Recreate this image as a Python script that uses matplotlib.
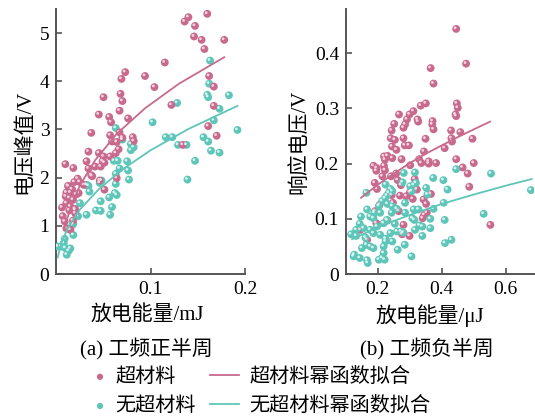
"""Discharge energy vs. response voltage, with and without metamaterial."""

import matplotlib
matplotlib.use("Agg")
import matplotlib.pyplot as plt
from matplotlib.transforms import offset_copy

# ─────────────────────────────────────────────────────────────────────────────
# DATA
# ─────────────────────────────────────────────────────────────────────────────

# (a) positive half cycle, energy in mJ, peak voltage in V
a_meta_x = [0.136, 0.140, 0.160, 0.147, 0.146, 0.154, 0.157, 0.178, 0.115, 0.094,
            0.104, 0.073, 0.069, 0.068, 0.070, 0.050, 0.067, 0.045, 0.056, 0.058,
            0.076, 0.037, 0.067, 0.057, 0.059, 0.064, 0.070, 0.081, 0.082, 0.122,
            0.162, 0.167, 0.167, 0.161, 0.170, 0.134, 0.034, 0.045, 0.050, 0.057,
            0.063, 0.066, 0.032, 0.041, 0.049, 0.047, 0.051, 0.0095, 0.018, 0.034,
            0.064, 0.046, 0.051, 0.038, 0.0225, 0.0247, 0.019, 0.013, 0.0166, 0.0106,
            0.0148, 0.021, 0.0236, 0.0099, 0.0138, 0.0176, 0.0106, 0.0148, 0.0198, 0.0138,
            0.006, 0.0067, 0.0088, 0.0106, 0.0148, 0.0176, 0.029, 0.020, 0.0123, 0.037]
a_meta_y = [5.24, 5.33, 5.40, 5.15, 4.93, 4.86, 4.67, 4.86, 4.39, 4.11,
            3.88, 4.19, 4.05, 3.74, 3.59, 3.67, 3.39, 3.31, 3.26, 3.15,
            3.23, 2.93, 2.94, 2.88, 2.75, 2.74, 2.83, 2.84, 2.76, 3.51,
            4.11, 3.89, 3.49, 3.07, 2.87, 2.68, 2.54, 2.51, 2.44, 2.44,
            2.51, 2.59, 2.34, 2.23, 2.34, 2.23, 2.31, 2.28, 2.20, 2.19,
            1.99, 1.94, 1.75, 2.03, 1.98, 1.91, 1.91, 1.82, 1.76, 1.69,
            1.69, 1.65, 1.68, 1.61, 1.58, 1.54, 1.47, 1.40, 1.35, 1.32,
            1.38, 1.20, 1.09, 0.95, 0.92, 1.11, 1.85, 1.26, 1.83, 2.05]

a_none_x = [0.163, 0.162, 0.160, 0.161, 0.183, 0.128, 0.173, 0.167, 0.102, 0.192,
            0.156, 0.161, 0.116, 0.123, 0.129, 0.138, 0.164, 0.173, 0.147, 0.139,
            0.063, 0.070, 0.079, 0.079, 0.082, 0.075, 0.076, 0.077, 0.067, 0.061,
            0.065, 0.063, 0.063, 0.062, 0.064, 0.056, 0.059, 0.057, 0.047, 0.046,
            0.048, 0.034, 0.035, 0.025, 0.023, 0.032, 0.042, 0.047, 0.020, 0.018,
            0.014, 0.018, 0.0088, 0.0078, 0.0053, 0.0014, 0.0095, 0.013, 0.011, 0.0148,
            0.032, 0.017]
a_none_y = [4.43, 3.95, 3.72, 3.67, 3.71, 3.55, 3.43, 3.19, 3.15, 2.99,
            2.84, 2.75, 2.84, 2.84, 2.68, 2.68, 2.56, 2.52, 2.35, 1.96,
            3.03, 2.79, 2.70, 2.57, 2.63, 2.34, 2.15, 1.96, 2.19, 2.35,
            2.35, 2.08, 1.87, 1.68, 1.64, 1.59, 1.39, 1.23, 1.51, 1.89,
            1.94, 1.83, 1.71, 1.47, 1.20, 1.23, 1.32, 1.31, 1.33, 1.04,
            0.92, 0.81, 0.73, 0.64, 0.57, 0.57, 0.54, 0.48, 0.40, 0.53,
            1.85, 1.02]

# power-law fit curves of (a), sampled along the drawn lines
a_meta_fit_x = [0.008, 0.015, 0.025, 0.041, 0.064, 0.094, 0.13, 0.178]
a_meta_fit_y = [0.91, 1.38, 1.84, 2.36, 2.91, 3.44, 3.95, 4.50]
a_none_fit_x = [0.0014, 0.005, 0.012, 0.025, 0.045, 0.07, 0.10, 0.14, 0.192]
a_none_fit_y = [0.345, 0.63, 0.95, 1.34, 1.76, 2.17, 2.57, 3.01, 3.49]

# (b) negative half cycle, energy in uJ, response voltage in V
b_meta_x = [0.445, 0.476, 0.365, 0.374, 0.447, 0.450, 0.443, 0.445, 0.350, 0.334,
            0.311, 0.299, 0.266, 0.291, 0.285, 0.280, 0.251, 0.243, 0.324, 0.326,
            0.371, 0.370, 0.374, 0.429, 0.458, 0.430, 0.432, 0.496, 0.240, 0.253,
            0.280, 0.297, 0.284, 0.244, 0.258, 0.349, 0.409, 0.230, 0.219, 0.219,
            0.186, 0.196, 0.195, 0.222, 0.245, 0.274, 0.301, 0.329, 0.344, 0.359,
            0.359, 0.382, 0.336, 0.445, 0.465, 0.500, 0.481, 0.486, 0.190, 0.197,
            0.214, 0.241, 0.257, 0.272, 0.269, 0.309, 0.289, 0.247, 0.243, 0.322,
            0.343, 0.351, 0.366, 0.353, 0.340, 0.345, 0.265, 0.230, 0.191, 0.195,
            0.145, 0.166, 0.276, 0.299, 0.552, 0.280, 0.205, 0.262, 0.315, 0.300,
            0.222]
b_meta_y = [0.444, 0.381, 0.373, 0.345, 0.309, 0.301, 0.289, 0.286, 0.309, 0.305,
            0.295, 0.289, 0.289, 0.280, 0.271, 0.265, 0.272, 0.260, 0.280, 0.276,
            0.277, 0.271, 0.262, 0.260, 0.257, 0.246, 0.240, 0.245, 0.246, 0.243,
            0.246, 0.233, 0.233, 0.231, 0.225, 0.245, 0.228, 0.214, 0.213, 0.196,
            0.196, 0.192, 0.187, 0.207, 0.210, 0.208, 0.197, 0.208, 0.222, 0.204,
            0.200, 0.201, 0.201, 0.208, 0.193, 0.201, 0.182, 0.158, 0.165, 0.154,
            0.177, 0.177, 0.182, 0.161, 0.142, 0.136, 0.141, 0.129, 0.143, 0.153,
            0.135, 0.127, 0.145, 0.111, 0.101, 0.107, 0.114, 0.097, 0.114, 0.092,
            0.080, 0.062, 0.072, 0.069, 0.089, 0.089, 0.125, 0.170, 0.172, 0.148,
            0.188]

b_none_x = [0.679, 0.554, 0.531, 0.445, 0.405, 0.418, 0.406, 0.373, 0.351, 0.355,
            0.374, 0.364, 0.364, 0.409, 0.410, 0.430, 0.316, 0.281, 0.277, 0.312,
            0.301, 0.306, 0.319, 0.312, 0.327, 0.285, 0.285, 0.314, 0.330, 0.339,
            0.339, 0.316, 0.308, 0.280, 0.272, 0.284, 0.305, 0.224, 0.239, 0.245,
            0.234, 0.228, 0.222, 0.213, 0.203, 0.230, 0.245, 0.259, 0.243, 0.207,
            0.189, 0.176, 0.166, 0.164, 0.186, 0.197, 0.218, 0.228, 0.253, 0.260,
            0.239, 0.224, 0.224, 0.218, 0.218, 0.213, 0.203, 0.221, 0.186, 0.168,
            0.166, 0.143, 0.126, 0.124, 0.132, 0.143, 0.147, 0.155, 0.116, 0.132,
            0.161, 0.176, 0.186, 0.164, 0.207, 0.176, 0.150, 0.245, 0.262]
b_none_y = [0.152, 0.182, 0.109, 0.190, 0.170, 0.153, 0.129, 0.174, 0.156, 0.144,
            0.118, 0.100, 0.083, 0.098, 0.056, 0.062, 0.184, 0.183, 0.166, 0.161,
            0.159, 0.150, 0.165, 0.117, 0.117, 0.129, 0.111, 0.098, 0.088, 0.086,
            0.069, 0.080, 0.101, 0.075, 0.077, 0.053, 0.032, 0.162, 0.154, 0.150,
            0.147, 0.142, 0.137, 0.132, 0.123, 0.127, 0.123, 0.118, 0.111, 0.111,
            0.111, 0.104, 0.117, 0.147, 0.101, 0.086, 0.092, 0.098, 0.091, 0.077,
            0.074, 0.064, 0.059, 0.050, 0.038, 0.029, 0.026, 0.026, 0.047, 0.020,
            0.025, 0.029, 0.035, 0.032, 0.080, 0.091, 0.104, 0.083, 0.072, 0.069,
            0.066, 0.080, 0.074, 0.053, 0.071, 0.050, 0.047, 0.059, 0.044]

b_meta_fit_x = [0.147, 0.20, 0.25, 0.30, 0.35, 0.40, 0.45, 0.50, 0.551]
b_meta_fit_y = [0.138, 0.162, 0.182, 0.201, 0.218, 0.233, 0.248, 0.262, 0.276]
b_none_fit_x = [0.119, 0.20, 0.30, 0.40, 0.50, 0.60, 0.681]
b_none_fit_y = [0.063, 0.085, 0.107, 0.127, 0.144, 0.160, 0.172]

# axis ticks
a_xticks = [0.1, 0.2]
a_xticklabels = ["0.1", "0.2"]
a_yticks = [0, 1, 2, 3, 4, 5]
b_xticks = [0.2, 0.4, 0.6]
b_xticklabels = ["0.2", "0.4", "0.6"]
b_yticks = [0, 0.1, 0.2, 0.3, 0.4]
b_yticklabels = ["0", "0.1", "0.2", "0.3", "0.4"]

labels_series = ["超材料", "无超材料"]
labels_fit = ["超材料幂函数拟合", "无超材料幂函数拟合"]

# ─────────────────────────────────────────────────────────────────────────────
# STYLE
# ─────────────────────────────────────────────────────────────────────────────

PINK = "#c86a8e"
PINK_LIGHT = "#f3d3df"
TEAL = "#5ec6b9"
TEAL_LIGHT = "#d6f3ee"
AXIS_GREY = "#555555"
FONTS = ["Liberation Serif", "Noto Sans CJK SC", "DejaVu Sans"]

plt.rcParams["font.family"] = FONTS
plt.rcParams["axes.unicode_minus"] = False

fig = plt.figure(figsize=(5.35, 4.16), dpi=100)
ax_a = fig.add_axes([0.1054, 0.3413, 0.3525, 0.637])
ax_b = fig.add_axes([0.6467, 0.3413, 0.3523, 0.637])


def draw_balls(ax, xs, ys, color, light):
    """Scatter shaded balls: solid body plus a small offset highlight."""
    body = ax.scatter(xs, ys, s=32, color=color, edgecolors="none", zorder=3)
    shine = offset_copy(ax.transData, fig=fig, x=-0.8, y=0.8, units="points")
    ax.scatter(xs, ys, s=4, color=light, edgecolors="none", zorder=3.1,
               transform=shine)
    return body


def style_axes(ax):
    for side in ("top", "right"):
        ax.spines[side].set_visible(False)
    for side in ("left", "bottom"):
        ax.spines[side].set_color(AXIS_GREY)
        ax.spines[side].set_linewidth(1.4)
    ax.tick_params(direction="in", length=4, width=1.2, color=AXIS_GREY,
                   labelsize=14, pad=5)


# (a)
draw_balls(ax_a, a_none_x, a_none_y, TEAL, TEAL_LIGHT)
sc_meta = draw_balls(ax_a, a_meta_x, a_meta_y, PINK, PINK_LIGHT)
ln_meta, = ax_a.plot(a_meta_fit_x, a_meta_fit_y, color=PINK, lw=1.3, zorder=4)
ln_none, = ax_a.plot(a_none_fit_x, a_none_fit_y, color=TEAL, lw=1.3, zorder=4)
ax_a.set_xlim(0, 0.2)
ax_a.set_ylim(0, 5.5)
ax_a.set_xticks(a_xticks)
ax_a.set_xticklabels(a_xticklabels)
ax_a.set_yticks(a_yticks)
ax_a.set_ylabel("电压峰值/V", fontsize=15, labelpad=4)
style_axes(ax_a)

# (b)
draw_balls(ax_b, b_meta_x, b_meta_y, PINK, PINK_LIGHT)
sc_none = draw_balls(ax_b, b_none_x, b_none_y, TEAL, TEAL_LIGHT)
ax_b.plot(b_meta_fit_x, b_meta_fit_y, color=PINK, lw=1.3, zorder=4)
ax_b.plot(b_none_fit_x, b_none_fit_y, color=TEAL, lw=1.3, zorder=4)
ax_b.set_xlim(0.1, 0.69)
ax_b.set_ylim(0, 0.48)
ax_b.set_xticks(b_xticks)
ax_b.set_xticklabels(b_xticklabels)
ax_b.set_yticks(b_yticks)
ax_b.set_yticklabels(b_yticklabels)
ax_b.set_ylabel("响应电压/V", fontsize=15, labelpad=4)
style_axes(ax_b)

# axis titles and sub-captions under each panel
fig.text(147 / 535, 1 - 316 / 416, "放电能量/mJ", ha="center", va="center",
         fontsize=15)
fig.text(430 / 535, 1 - 316 / 416, "放电能量/μJ", ha="center", va="center",
         fontsize=15)
fig.text(146 / 535, 1 - 349 / 416, "(a) 工频正半周", ha="center", va="center",
         fontsize=15)
fig.text(427 / 535, 1 - 349 / 416, "(b) 工频负半周", ha="center", va="center",
         fontsize=15)

# legend: markers on the left, fit lines on the right
leg1 = fig.legend([sc_meta, sc_none], labels_series, loc="upper left",
                  bbox_to_anchor=(94 / 535, 1 - 368 / 416), frameon=False,
                  fontsize=14.5, handlelength=0.6, handletextpad=0.45,
                  labelspacing=0.5, markerscale=0.8, borderaxespad=0,
                  borderpad=0)
leg2 = fig.legend([ln_meta, ln_none], labels_fit, loc="upper left",
                  bbox_to_anchor=(210 / 535, 1 - 368 / 416), frameon=False,
                  fontsize=14.5, handlelength=1.45, handletextpad=0.5,
                  labelspacing=0.5, borderaxespad=0, borderpad=0)

fig.savefig("out.png", dpi=100)
